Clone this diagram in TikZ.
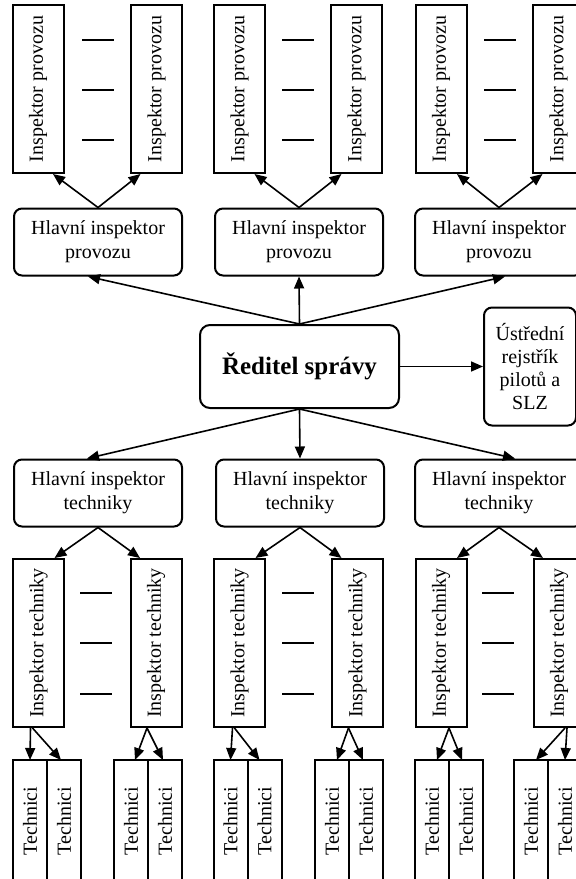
\documentclass[tikz,border=0pt]{standalone}
\usepackage{fontspec}
\setmainfont{Liberation Serif}
\usetikzlibrary{positioning,calc,arrows.meta}

\begin{document}
\begin{tikzpicture}[x=0.5pt, y=-0.5pt,
    box/.style={draw, line width=1pt, inner sep=0pt, align=center, font=\fontsize{10}{12}\selectfont},
    insp/.style={box, minimum width=25.5pt, minimum height=84pt},
    chief/.style={box, rounded corners=4pt, minimum width=84pt, minimum height=33.5pt},
    tech/.style={box, outer sep=0pt, minimum width=17pt, minimum height=61pt},
    arr/.style={-{Triangle[length=6pt,width=5pt]}, line width=0.8pt}]
  \clip (0,0) rectangle (576,879);

  % provoz
  \node[insp] (ip1) at (38,89) {\rotatebox{90}{Inspektor provozu}};
  \node[insp] (ip2) at (156.5,89) {\rotatebox{90}{Inspektor provozu}};
  \node[insp] (ip3) at (239.5,89) {\rotatebox{90}{Inspektor provozu}};
  \node[insp] (ip4) at (356.5,89) {\rotatebox{90}{Inspektor provozu}};
  \node[insp] (ip5) at (441,89) {\rotatebox{90}{Inspektor provozu}};
  \node[insp] (ip6) at (558.5,89) {\rotatebox{90}{Inspektor provozu}};

  \node[chief] (hp1) at (98,242) {Hlavní inspektor\\provozu};
  \node[chief] (hp2) at (299,242) {Hlavní inspektor\\provozu};
  \node[chief] (hp3) at (499,242) {Hlavní inspektor\\provozu};

  % reditel
  \node[box, rounded corners=5pt, minimum width=99.5pt, minimum height=41.5pt,
        font=\bfseries\fontsize{12.5}{15}\selectfont] (red) at (299.5,366.5) {Ředitel správy};
  \node[box, rounded corners=4pt, minimum width=46pt, minimum height=59pt,
        font=\fontsize{10}{11.5}\selectfont, right=41.5pt of red] (ust) {Ústřední\\rejstřík\\pilotů a\\SLZ};

  % technika
  \node[chief] (ht1) at (98,493) {Hlavní inspektor\\techniky};
  \node[chief] (ht2) at (300,493) {Hlavní inspektor\\techniky};
  \node[chief] (ht3) at (499,493) {Hlavní inspektor\\techniky};

  \node[insp] (it1) at (38.5,643) {\rotatebox{90}{Inspektor techniky}};
  \node[insp] (it2) at (156,643) {\rotatebox{90}{Inspektor techniky}};
  \node[insp] (it3) at (239.5,643) {\rotatebox{90}{Inspektor techniky}};
  \node[insp] (it4) at (357.5,643) {\rotatebox{90}{Inspektor techniky}};
  \node[insp] (it5) at (441,643) {\rotatebox{90}{Inspektor techniky}};
  \node[insp] (it6) at (559,643) {\rotatebox{90}{Inspektor techniky}};

  \node[tech] (tc1a) at (30,821) {\rotatebox{90}{Technici}};
  \node[tech, right=0pt of tc1a] (tc1b) {\rotatebox{90}{Technici}};
  \node[tech] (tc2a) at (131,821) {\rotatebox{90}{Technici}};
  \node[tech, right=0pt of tc2a] (tc2b) {\rotatebox{90}{Technici}};
  \node[tech] (tc3a) at (230.5,821) {\rotatebox{90}{Technici}};
  \node[tech, right=0pt of tc3a] (tc3b) {\rotatebox{90}{Technici}};
  \node[tech] (tc4a) at (332,821) {\rotatebox{90}{Technici}};
  \node[tech, right=0pt of tc4a] (tc4b) {\rotatebox{90}{Technici}};
  \node[tech] (tc5a) at (432,821) {\rotatebox{90}{Technici}};
  \node[tech, right=0pt of tc5a] (tc5b) {\rotatebox{90}{Technici}};
  \node[tech] (tc6a) at (531,821) {\rotatebox{90}{Technici}};
  \node[tech, right=0pt of tc6a] (tc6b) {\rotatebox{90}{Technici}};

  % dashes between inspectors
  \foreach \x in {98,298,500}
    \foreach \y in {40,90,140}
      \draw[line width=1pt] (\x-16,\y) -- (\x+16,\y);
  \foreach \x in {96,298,498}
    \foreach \y in {593,643,694}
      \draw[line width=1pt] (\x-16,\y) -- (\x+16,\y);

  \draw[arr] (hp1.north) -- ($(ip1.south)+(15,0)$);
  \draw[arr] (hp1.north) -- ($(ip2.south)+(-16,0)$);
  \draw[arr] (hp2.north) -- ($(ip3.south)+(15,0)$);
  \draw[arr] (hp2.north) -- ($(ip4.south)+(-15,0)$);
  \draw[arr] (hp3.north) -- ($(ip5.south)+(16,0)$);
  \draw[arr] (hp3.north) -- ($(ip6.south)+(-16,0)$);

  \draw[arr] (red.north) -- ($(hp1.south)+(-10,0)$);
  \draw[arr] (red.north) -- (hp2.south);
  \draw[arr] (red.north) -- ($(hp3.south)+(6,0)$);
  \draw[arr] (red.east) -- (ust.west);
  \draw[arr] (red.south) -- ($(ht1.north)+(-11,0)$);
  \draw[arr] (red.south) -- (ht2.north);
  \draw[arr] (red.south) -- ($(ht3.north)+(16,0)$);

  \draw[arr] (ht1.south) -- ($(it1.north)+(16,0)$);
  \draw[arr] (ht1.south) -- ($(it2.north)+(-16,0)$);
  \draw[arr] (ht2.south) -- ($(it3.north)+(16,0)$);
  \draw[arr] (ht2.south) -- ($(it4.north)+(-16,0)$);
  \draw[arr] (ht3.south) -- ($(it5.north)+(16,0)$);
  \draw[arr] (ht3.south) -- ($(it6.north)+(-16,0)$);

  \draw[arr] ($(it1.south)+(-8,0)$) -- (tc1a.north);
  \draw[arr] ($(it1.south)+(-6,0)$) -- ($(tc1b.north)+(-3,0)$);
  \draw[arr] ($(it2.south)+(-9,0)$) -- ($(tc2a.north)+(4,0)$);
  \draw[arr] ($(it2.south)+(-9,0)$) -- ($(tc2b.north)+(-2,0)$);
  \draw[arr] ($(it3.south)+(-7,0)$) -- (tc3a.north);
  \draw[arr] ($(it3.south)+(-5,0)$) -- ($(tc3b.north)+(-5,0)$);
  \draw[arr] ($(it4.south)+(-9,0)$) -- ($(tc4a.north)+(5,0)$);
  \draw[arr] ($(it4.south)+(-9,0)$) -- ($(tc4b.north)+(-3,0)$);
  \draw[arr] ($(it5.south)+(8,0)$) -- ($(tc5a.north)+(5,0)$);
  \draw[arr] ($(it5.south)+(8,0)$) -- ($(tc5b.north)+(-4,0)$);
  \draw[arr] ($(it6.south)+(6,0)$) -- ($(tc6a.north)+(5,0)$);
  \draw[arr] ($(it6.south)+(8,0)$) -- (tc6b.north);
\end{tikzpicture}
\end{document}
